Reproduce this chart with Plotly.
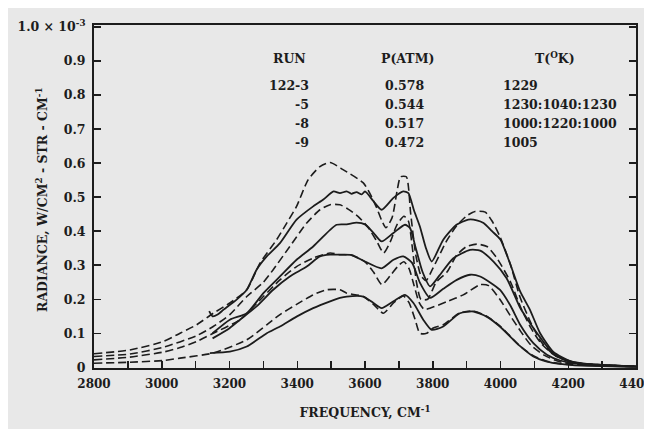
import plotly.graph_objects as go

# ---- data (frequency cm^-1, radiance x1e-3 W/cm2-str-cm-1) ----
S1_f = [3140, 3150, 3165, 3182, 3221, 3251, 3280, 3310, 3349, 3398, 3447, 3477, 3507, 3526, 3546, 3560, 3575, 3590, 3600,
        3625, 3649, 3684, 3713, 3728, 3745, 3762, 3780, 3797, 3831, 3870, 3905, 3930, 3950, 3975, 4000, 4030, 4058,
        4087, 4117, 4156, 4206, 4255, 4300, 4400]
S1_v = [0.165, 0.150, 0.155, 0.169, 0.199, 0.228, 0.287, 0.326, 0.365, 0.434, 0.473, 0.493, 0.517, 0.512, 0.517, 0.510,
        0.515, 0.508, 0.517, 0.488, 0.463, 0.498, 0.517, 0.512, 0.460, 0.414, 0.350, 0.311, 0.375, 0.419, 0.434, 0.432,
        0.424, 0.400, 0.375, 0.300, 0.223, 0.169, 0.100, 0.045, 0.018, 0.008, 0.005, 0.002]

S2_f = [3150, 3201, 3251, 3300, 3349, 3398, 3447, 3497, 3516, 3546, 3575, 3600, 3625, 3649, 3684, 3718, 3733, 3750,
        3770, 3792, 3820, 3860, 3910, 3940, 3980, 4018, 4058, 4077, 4117, 4156, 4200, 4255, 4400]
S2_v = [0.100, 0.140, 0.159, 0.218, 0.267, 0.316, 0.355, 0.404, 0.419, 0.420, 0.425, 0.420, 0.395, 0.370, 0.395, 0.419,
        0.409, 0.350, 0.280, 0.238, 0.270, 0.320, 0.345, 0.343, 0.310, 0.262, 0.175, 0.145, 0.088, 0.040, 0.020, 0.010,
        0.002]

S3_f = [3150, 3200, 3231, 3280, 3329, 3378, 3428, 3467, 3497, 3526, 3560, 3600, 3649, 3684, 3713, 3739, 3762, 3792,
        3830, 3871, 3910, 3940, 3998, 4030, 4058, 4097, 4137, 4176, 4216, 4400]
S3_v = [0.085, 0.115, 0.140, 0.179, 0.228, 0.267, 0.296, 0.326, 0.331, 0.331, 0.330, 0.311, 0.291, 0.316, 0.326, 0.307,
        0.249, 0.204, 0.230, 0.257, 0.272, 0.267, 0.228, 0.180, 0.125, 0.071, 0.037, 0.020, 0.012, 0.002]

S4_f = [3142, 3201, 3251, 3310, 3349, 3398, 3447, 3497, 3526, 3546, 3595, 3625, 3649, 3684, 3718, 3743, 3772, 3797,
        3831, 3880, 3920, 3959, 3998, 4057, 4097, 4137, 4176, 4220, 4400]
S4_v = [0.042, 0.046, 0.061, 0.100, 0.120, 0.149, 0.174, 0.194, 0.204, 0.208, 0.208, 0.189, 0.174, 0.194, 0.213, 0.189,
        0.140, 0.110, 0.120, 0.159, 0.164, 0.149, 0.120, 0.063, 0.032, 0.017, 0.010, 0.006, 0.002]

D1_f = [2800, 2906, 3005, 3054, 3103, 3152, 3201, 3251, 3290, 3339, 3369, 3398, 3432, 3467, 3497, 3535, 3595, 3615,
        3634, 3650, 3662, 3680, 3695, 3705, 3722, 3735, 3750, 3765, 3780, 3800, 3840, 3870, 3900, 3925, 3955, 3975,
        3998, 4030, 4057, 4090, 4120, 4160, 4210, 4260, 4400]
D1_v = [0.040, 0.051, 0.076, 0.100, 0.125, 0.159, 0.189, 0.228, 0.306, 0.375, 0.424, 0.473, 0.551, 0.590, 0.602, 0.581,
        0.542, 0.510, 0.470, 0.430, 0.410, 0.440, 0.520, 0.560, 0.560, 0.450, 0.330, 0.270, 0.255, 0.290, 0.370, 0.415,
        0.445, 0.458, 0.456, 0.430, 0.385, 0.300, 0.208, 0.130, 0.075, 0.035, 0.015, 0.008, 0.003]

D2_f = [2800, 2906, 3005, 3103, 3152, 3201, 3251, 3300, 3329, 3378, 3428, 3467, 3497, 3526, 3550, 3580, 3610, 3635,
        3655, 3675, 3695, 3715, 3728, 3740, 3752, 3765, 3785, 3810, 3842, 3871, 3900, 3930, 3960, 3990, 4030, 4060,
        4090, 4120, 4160, 4210, 4400]
D2_v = [0.032, 0.039, 0.059, 0.093, 0.120, 0.155, 0.208, 0.250, 0.287, 0.355, 0.424, 0.463, 0.478, 0.478, 0.465, 0.443,
        0.410, 0.370, 0.336, 0.370, 0.420, 0.444, 0.430, 0.350, 0.250, 0.200, 0.200, 0.250, 0.280, 0.330, 0.355, 0.362,
        0.355, 0.320, 0.250, 0.175, 0.115, 0.070, 0.035, 0.015, 0.003]

D3_f = [2800, 2906, 3005, 3054, 3103, 3152, 3231, 3300, 3349, 3398, 3447, 3497, 3526, 3560, 3600, 3625, 3650, 3675,
        3700, 3715, 3730, 3745, 3760, 3775, 3795, 3842, 3890, 3940, 3965, 3998, 4030, 4060, 4090, 4130, 4180, 4400]
D3_v = [0.022, 0.030, 0.045, 0.058, 0.076, 0.100, 0.140, 0.208, 0.257, 0.296, 0.321, 0.336, 0.331, 0.330, 0.310, 0.280,
        0.243, 0.270, 0.300, 0.310, 0.290, 0.240, 0.190, 0.170, 0.175, 0.193, 0.213, 0.243, 0.240, 0.200, 0.150, 0.105,
        0.065, 0.035, 0.015, 0.002]

D4_f = [2800, 2906, 3005, 3054, 3152, 3251, 3310, 3349, 3398, 3447, 3487, 3526, 3546, 3595, 3625, 3654, 3684, 3713,
        3730, 3748, 3762, 3782, 3800, 3831, 3880, 3920, 3959, 3998, 4057, 4097, 4137, 4180, 4400]
D4_v = [0.012, 0.015, 0.020, 0.027, 0.042, 0.081, 0.125, 0.155, 0.185, 0.213, 0.228, 0.228, 0.218, 0.208, 0.185, 0.159,
        0.189, 0.210, 0.190, 0.140, 0.100, 0.100, 0.115, 0.125, 0.160, 0.165, 0.150, 0.122, 0.063, 0.034, 0.018, 0.010,
        0.002]

# table text
runs = ["122-3", "-5", "-8", "-9"]
pressures = ["0.578", "0.544", "0.517", "0.472"]
temps = ["1229", "1230:1040:1230", "1000:1220:1000", "1005"]
headers = ["RUN", "P(ATM)", "T(<sup>O</sup>K)"]

x_ticks = [2800, 3000, 3200, 3400, 3600, 3800, 4000, 4200, 4400]
y_ticks = [0, 0.1, 0.2, 0.3, 0.4, 0.5, 0.6, 0.7, 0.8, 0.9, 1.0]
y_ticktext = ["0", "0.1", "0.2", "0.3", "0.4", "0.5", "0.6", "0.7", "0.8", "0.9", "1.0 × 10<sup>-3</sup>"]

# ---- figure ----
INK = "#1c1c1c"
BG = "#e8e8e8"
FONT = dict(family="DejaVu Serif", size=12.5, color=INK, weight="bold")
Y_RANGE = [-0.002, 1.006]

fig = go.Figure()
solid = [(S1_f, S1_v), (S2_f, S2_v), (S3_f, S3_v), (S4_f, S4_v)]
dashed = [(D1_f, D1_v), (D2_f, D2_v), (D3_f, D3_v), (D4_f, D4_v)]
for f, v in dashed:
    fig.add_trace(go.Scatter(x=f, y=v, mode="lines", line=dict(color=INK, width=1.6, dash="8px,4px",
                                                               shape="spline", smoothing=0.6),
                             showlegend=False, hoverinfo="skip"))
for f, v in solid:
    fig.add_trace(go.Scatter(x=f, y=v, mode="lines", line=dict(color=INK, width=1.8, shape="spline", smoothing=0.6),
                             showlegend=False, hoverinfo="skip"))

# the page body keeps its default 8px margin, so the figure sits at (8, 8) in the window
OFF = 8
W, H = 652, 429
# plot area wanted in window pixels: x 94..636, y 25..368
L, R, T, B = 94, 636, 25, 368


def px(xp):
    return (xp - L) / (R - L)


def py(yp):
    return (B - yp) / (B - T)


ann = []
head_y = 58
row_y = [85, 104, 123, 142]
ann.append(dict(text=headers[0], x=px(289), y=py(head_y), xanchor="center"))
ann.append(dict(text=headers[1], x=px(407), y=py(head_y), xanchor="center"))
ann.append(dict(text=headers[2], x=px(555), y=py(head_y), xanchor="center"))
for i in range(4):
    ann.append(dict(text=runs[i], x=px(311), y=py(row_y[i]), xanchor="right"))
    ann.append(dict(text=pressures[i], x=px(383), y=py(row_y[i]), xanchor="left"))
    ann.append(dict(text=temps[i], x=px(501), y=py(row_y[i]), xanchor="left"))
for a in ann:
    a.update(xref="paper", yref="paper", yanchor="middle", showarrow=False, font=FONT)

# y-axis title
ann.append(dict(text="RADIANCE, W/CM<sup>2</sup> - STR - CM<sup>-1</sup>", x=px(42), y=py(200),
                xref="paper", yref="paper", textangle=-90, showarrow=False, font=FONT,
                xanchor="center", yanchor="middle"))

fig.update_layout(
    width=W, height=H, autosize=False,
    margin=dict(l=L - OFF, r=W + OFF - R, t=T - OFF, b=H + OFF - B, pad=0, autoexpand=False),
    paper_bgcolor=BG, plot_bgcolor=BG,
    font=FONT,
    annotations=ann,
    xaxis=dict(range=[2800, 4400], tickvals=x_ticks, ticks="inside", ticklen=7, tickwidth=1.5,
               tickcolor=INK, showline=True, linecolor=INK, linewidth=2, mirror=True,
               showgrid=False, zeroline=False, ticklabelstandoff=4, ticklabeloverflow="allow",
               automargin=False, tickfont=dict(size=12),
               minor=dict(dtick=100, tick0=2800, ticks="inside", ticklen=7, tickwidth=1.5, tickcolor=INK,
                          showgrid=False),
               title=dict(text="FREQUENCY, CM<sup>-1</sup>", font=FONT, standoff=18)),
    yaxis=dict(range=Y_RANGE, tickvals=y_ticks, ticktext=y_ticktext, ticks="inside", ticklen=7,
               tickwidth=1.5, tickcolor=INK, showline=True, linecolor=INK, linewidth=2, mirror="ticks",
               showgrid=False, zeroline=False, ticklabelstandoff=4, automargin=False),
)

fig.write_html("out.html", config={"displayModeBar": False, "staticPlot": True})
